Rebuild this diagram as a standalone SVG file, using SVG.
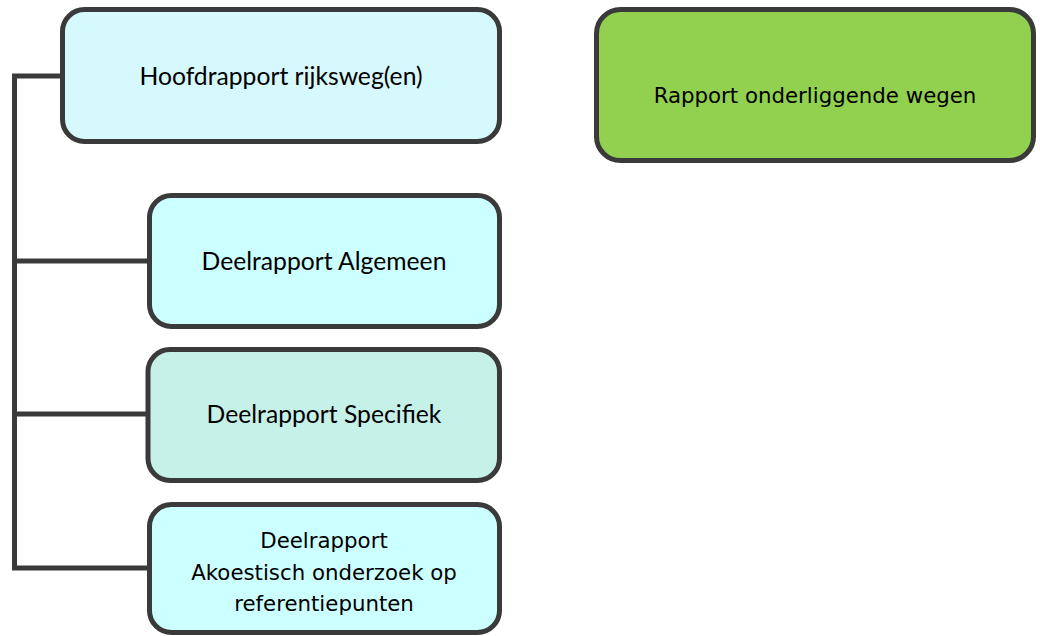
<svg xmlns="http://www.w3.org/2000/svg" width="1040" height="636" viewBox="0 0 1040 636">
<style>
.box{stroke:#3a3a3a;stroke-width:5}
.c{fill:none;stroke:#3a3a3a;stroke-width:5}
.cal{font-family:Lato,"Liberation Sans",sans-serif;font-size:24.7px;fill:#000;text-anchor:middle}
.ver{font-family:"DejaVu Sans","Liberation Sans",sans-serif;font-size:21.3px;fill:#000;text-anchor:middle}
</style>
<rect width="1040" height="636" fill="#fff"/>
<g id="connectors">
<path class="c" d="M62 76H14.5V568H148"/>
<path class="c" d="M14.5 261H148"/>
<path class="c" d="M14.5 414H148"/>
</g>
<g id="hoofdrapport">
<rect class="box" x="62.5" y="9.5" width="437" height="132" rx="22" fill="#d5f9fd"/>
<text class="cal" x="281" y="85">Hoofdrapport rijksweg(en)</text>
</g>
<g id="onderliggende">
<rect class="box" x="596.5" y="9.5" width="437" height="151" rx="24" fill="#92d050"/>
<text class="ver" x="815" y="103">Rapport onderliggende wegen</text>
</g>
<g id="algemeen">
<rect class="box" x="149.5" y="195.5" width="350" height="131" rx="22" fill="#ccffff"/>
<text class="cal" x="324" y="270">Deelrapport Algemeen</text>
</g>
<g id="specifiek">
<rect class="box" x="148" y="349.5" width="351.5" height="131" rx="22" fill="#c6f1e9"/>
<text class="cal" x="324" y="423">Deelrapport Specifiek</text>
</g>
<g id="akoestisch">
<rect class="box" x="149.5" y="504.5" width="350" height="128" rx="22" fill="#ccffff"/>
<text class="ver" x="324" y="548">Deelrapport</text>
<text class="ver" x="324" y="580">Akoestisch onderzoek op</text>
<text class="ver" x="324" y="611">referentiepunten</text>
</g>
</svg>
